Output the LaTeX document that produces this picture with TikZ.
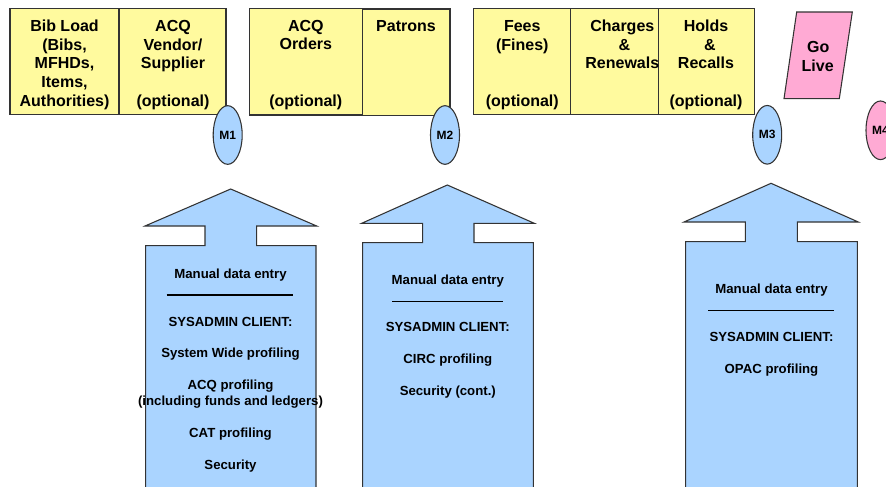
\documentclass[tikz,border=0pt]{standalone}
\usepackage{fontspec}
\setmainfont{Liberation Sans}
\usetikzlibrary{shapes.geometric}
\definecolor{ybox}{HTML}{FFFA9E}
\definecolor{bfill}{HTML}{AAD4FF}
\definecolor{pfill}{HTML}{FFAAD4}
\definecolor{edge}{HTML}{333333}
\tikzset{
  boxstyle/.style={draw=edge,fill=ybox,line width=0.8pt},
  arrowstyle/.style={draw=edge,fill=bfill,line width=0.8pt,line join=miter},
  btxt/.style={font=\fontsize{12}{14}\selectfont\bfseries,anchor=base,inner sep=0pt},
  stxt/.style={font=\fontsize{9.9}{12}\selectfont\bfseries,anchor=base,inner sep=0pt},
  mell/.style={ellipse,draw=edge,line width=0.8pt,minimum width=21.75pt,minimum height=44pt,inner sep=0pt,font=\fontsize{9}{10}\selectfont\bfseries},
  sepline/.style={line width=1pt,draw=black}
}
\begin{document}
\begin{tikzpicture}[x=0.75pt,y=-0.75pt]
\useasboundingbox (0,0) rectangle (886,486);
\clip (0,0) rectangle (886,486);
\fill[white] (0,0) rectangle (886,486);
% top yellow boxes
\draw[boxstyle] (10,8.3) rectangle (119,114.5);
\draw[boxstyle] (119,8.3) rectangle (226,114.5);
\draw[boxstyle] (249.3,8.3) rectangle (362.3,115);
\draw[boxstyle] (362.3,9) rectangle (450,115.5);
\draw[boxstyle] (473.3,8.3) rectangle (570.7,114.5);
\draw[boxstyle] (570.7,8.3) rectangle (658.3,114.5);
\draw[boxstyle] (658.3,8.3) rectangle (754.3,114.5);
% Go Live
\draw[draw=edge,fill=pfill,line width=0.8pt] (796.7,12) -- (852.3,12) -- (839.3,98.7) -- (784,98.7) -- cycle;
\node[btxt] (go) at (818.3,52.5) {Go};
\node[btxt] (live) at (817.7,71.2) {Live};
% box texts
\node[btxt] (b1a) at (64.5,31.3) {Bib Load};
\node[btxt] (b1b) at (64.5,50) {(Bibs,};
\node[btxt] (b1c) at (64.5,68.8) {MFHDs,};
\node[btxt] (b1d) at (64.5,87.6) {Items,};
\node[btxt] (b1e) at (64.5,106.4) {Authorities)};
\node[btxt] (b2a) at (173,31.3) {ACQ};
\node[btxt] (b2b) at (173,50) {Vendor/};
\node[btxt] (b2c) at (173,68.8) {Supplier};
\node[btxt] (b2e) at (173,106.4) {(optional)};
\node[btxt] (b3a) at (305.8,31.3) {ACQ};
\node[btxt] (b3b) at (305.8,49.5) {Orders};
\node[btxt] (b3e) at (305.8,106.4) {(optional)};
\node[btxt] (b4a) at (406,31.3) {Patrons};
\node[btxt] (b5a) at (522.3,31.3) {Fees};
\node[btxt] (b5b) at (522.3,50) {(Fines)};
\node[btxt] (b5e) at (522.3,106.4) {(optional)};
\node[btxt] (b6a) at (622.3,31.3) {Charges};
\node[btxt] (b6b) at (624.3,50) {\&};
\node[btxt] (b6c) at (622.3,68.8) {Renewals};
\node[btxt] (b7a) at (706,31.3) {Holds};
\node[btxt] (b7b) at (710,50) {\&};
\node[btxt] (b7c) at (706,68.8) {Recalls};
\node[btxt] (b7e) at (706,106.4) {(optional)};
% milestones
\node[mell,fill=bfill] (m1) at (227.7,135) {M1};
\node[mell,fill=bfill] (m2) at (445,135) {M2};
\node[mell,fill=bfill] (m3) at (767.2,134.8) {M3};
\node[mell,fill=pfill] (m4) at (880.5,130.3) {M4};
% block arrows
\draw[arrowstyle] (230.7,189) -- (316.7,226) -- (256.7,226) -- (256.7,245.7) -- (316,245.7) -- (316,500) -- (145.7,500) -- (145.7,245.7) -- (205,245.7) -- (205,226) -- (145,226) -- cycle;
\draw[arrowstyle] (447.3,185) -- (534.3,223.3) -- (474,223.3) -- (474,242.7) -- (533.3,242.7) -- (533.3,500) -- (362.7,500) -- (362.7,242.7) -- (422.7,242.7) -- (422.7,223.3) -- (361.7,223.3) -- cycle;
\draw[arrowstyle] (771,183.3) -- (858.3,222) -- (797.3,222) -- (797.3,241.7) -- (857.3,241.7) -- (857.3,500) -- (685.7,500) -- (685.7,241.7) -- (745.3,241.7) -- (745.3,222) -- (684,222) -- cycle;
% arrow 1 text
\node[stxt] (a1a) at (230.5,278) {Manual data entry};
\coordinate (a1l) at (166.7,295);
\coordinate (a1r) at (293.3,295);
\draw[sepline] (a1l) -- (a1r);
\node[stxt] (a1b) at (230.5,326.4) {SYSADMIN CLIENT:};
\node[stxt] (a1c) at (230.5,357.8) {System Wide profiling};
\node[stxt] (a1d) at (230.5,389.6) {ACQ profiling};
\node[stxt] (a1e) at (230.5,405.8) {(including funds and ledgers)};
\node[stxt] (a1f) at (230.5,437.8) {CAT profiling};
\node[stxt] (a1g) at (230.5,469.6) {Security};
% arrow 2 text
\node[stxt] (a2a) at (447.8,284) {Manual data entry};
\coordinate (a2l) at (392.3,301.7);
\coordinate (a2r) at (503.3,301.7);
\draw[sepline] (a2l) -- (a2r);
\node[stxt] (a2b) at (447.8,331.4) {SYSADMIN CLIENT:};
\node[stxt] (a2c) at (447.8,363.6) {CIRC profiling};
\node[stxt] (a2d) at (447.8,395.8) {Security (cont.)};
% arrow 3 text
\node[stxt] (a3a) at (771.5,293) {Manual data entry};
\coordinate (a3l) at (708.3,310.7);
\coordinate (a3r) at (834.3,310.7);
\draw[sepline] (a3l) -- (a3r);
\node[stxt] (a3b) at (771.5,341.4) {SYSADMIN CLIENT:};
\node[stxt] (a3c) at (771.5,373) {OPAC profiling};
\end{tikzpicture}
\end{document}
